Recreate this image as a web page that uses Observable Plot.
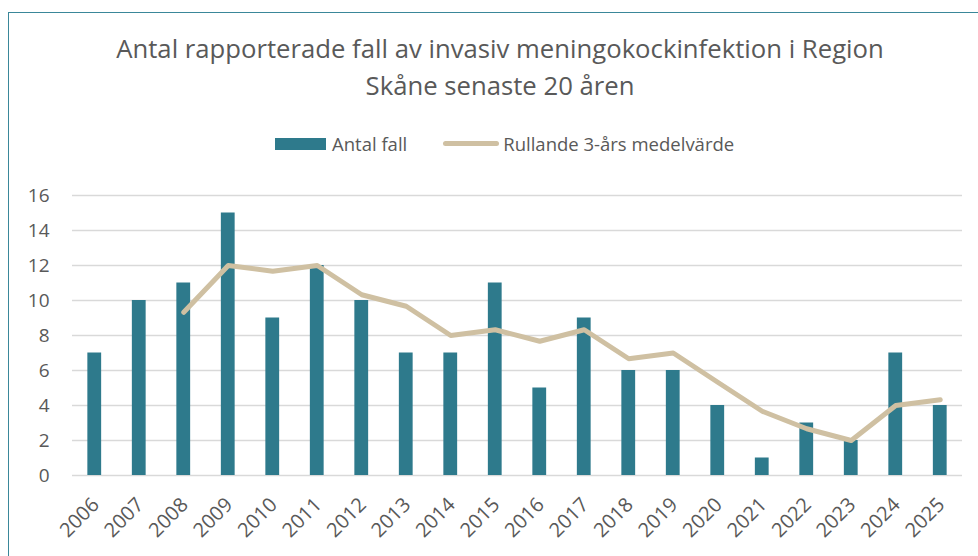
<!DOCTYPE html>
<html>
<head>
<meta charset="utf-8">
<script src="https://cdn.jsdelivr.net/npm/d3@7"></script>
<script src="https://cdn.jsdelivr.net/npm/@observablehq/plot@0.6"></script>
<style>
  html, body { margin: 0; padding: 0; background: #fff; width: 978px; height: 556px; overflow: hidden; }
  body { position: relative; font-family: "Open Sans", sans-serif; color: #595959; }
  #frame { position: absolute; left: 8px; top: 12px; width: 1100px; height: 700px; border-left: 1.5px solid #3a8799; border-top: 1.5px solid #3a8799; }
  #title { position: absolute; left: 0; top: 30px; width: 1000px; text-align: center; font-size: 25.7px; line-height: 37px; color: #595959; }
  #legend { position: absolute; top: 131px; left: 275px; font-size: 18.5px; color: #595959; display: flex; align-items: center; white-space: nowrap; }
  .sw-bar { display: inline-block; width: 51px; height: 12px; background: #2e7a8c; margin-right: 6px; }
  .sw-line { display: inline-block; width: 56px; height: 5px; border-radius: 3px; background: #cfc0a2; margin-left: 36px; margin-right: 4px; }
  #chart { position: absolute; left: 0; top: 180px; }
</style>
</head>
<body>
<div id="frame"></div>
<div id="title">Antal rapporterade fall av invasiv meningokockinfektion i Region<br>Skåne senaste 20 åren</div>
<div id="legend"><span class="sw-bar"></span><span>Antal fall</span><span class="sw-line"></span><span>Rullande 3-års medelvärde</span></div>
<div id="chart"></div>
<script>
const years = ["2006","2007","2008","2009","2010","2011","2012","2013","2014","2015","2016","2017","2018","2019","2020","2021","2022","2023","2024","2025"];
const cases = [7, 10, 11, 15, 9, 12, 10, 7, 7, 11, 5, 9, 6, 6, 4, 1, 3, 2, 7, 4];
const avgYears = ["2008","2009","2010","2011","2012","2013","2014","2015","2016","2017","2018","2019","2020","2021","2022","2023","2024","2025"];
const rolling = [9.33, 12, 11.67, 12, 10.33, 9.67, 8, 8.33, 7.67, 8.33, 6.67, 7, 5.33, 3.67, 2.67, 2, 4, 4.33];
const yTicks = [0, 2, 4, 6, 8, 10, 12, 14, 16];

const barData = years.map((y, i) => ({year: y, value: cases[i]}));
const lineData = avgYears.map((y, i) => ({year: y, value: rolling[i]}));

const chart = Plot.plot({
  width: 978,
  height: 376,
  marginTop: 15,
  marginBottom: 81,
  marginLeft: 72,
  marginRight: 16,
  style: {fontFamily: "Open Sans, sans-serif", fontSize: "19px", color: "#595959", background: "transparent", overflow: "visible"},
  x: {domain: years, paddingInner: 0.69, paddingOuter: 0.345, round: false, label: null},
  y: {domain: [0, 16], label: null},
  marks: [
    Plot.ruleY(yTicks, {stroke: "#d9d9d9", strokeWidth: 1.5}),
    Plot.barY(barData, {x: "year", y: "value", fill: "#2e7a8c"}),
    Plot.lineY(lineData, {x: "year", y: "value", stroke: "#cfc0a2", strokeWidth: 5, strokeLinejoin: "round", strokeLinecap: "round"}),
    Plot.axisY({ticks: yTicks, tickSize: 0, tickPadding: 23, label: null, fontSize: 19}),
    Plot.axisX({tickSize: 0, tickPadding: 26, tickRotate: -45, label: null, fontSize: 20, dx: 1})
  ]
});
document.getElementById("chart").appendChild(chart);
</script>
</body>
</html>
